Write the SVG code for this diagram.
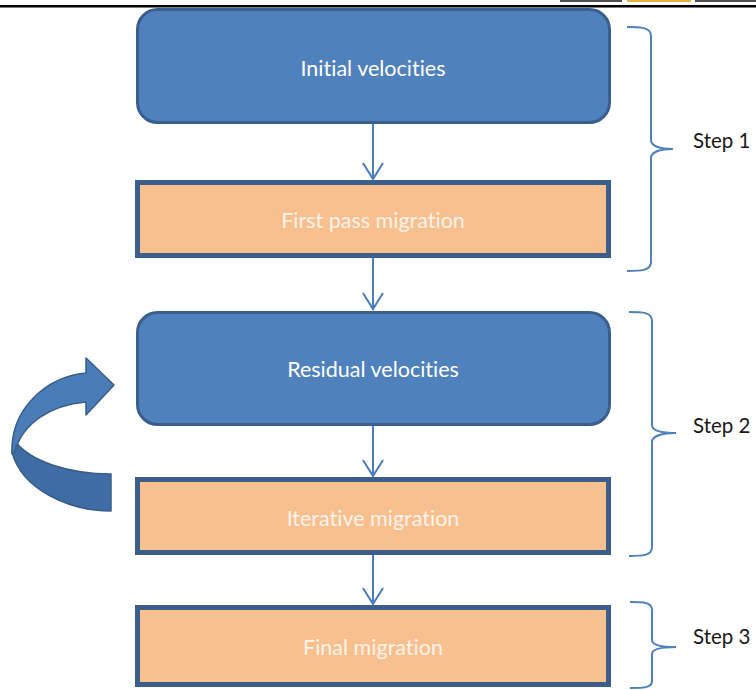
<svg xmlns="http://www.w3.org/2000/svg" width="756" height="690" viewBox="0 0 756 690">
  <style>
    .rbox { fill: #4f81bd; stroke: #3a5f8e; stroke-width: 3; }
    .obox { fill: #f9c08f; stroke: #3b5e8b; stroke-width: 5; }
    .label { font-family: Lato, "Open Sans", sans-serif; font-size: 21.5px; fill: #ffffff; text-anchor: middle; dominant-baseline: central; font-variant-ligatures: none; }
    .olabel { fill: #fdf3ea; }
    .step { font-family: Lato, "Open Sans", sans-serif; font-size: 20.5px; fill: #1a1a1a; dominant-baseline: central; }
    .flow { stroke: #4a7ebb; stroke-width: 2; fill: none; }
    .brace { stroke: #4f81bd; stroke-width: 2; fill: none; }
  </style>

  <!-- page header rule and tabs -->
  <rect x="0" y="5" width="756" height="2.5" fill="#000"/>
  <rect x="560" y="0" width="62" height="2" fill="#4d4d4d"/>
  <rect x="627" y="0" width="64" height="2" fill="#e4b440"/>
  <rect x="695" y="0" width="61" height="2" fill="#4d4d4d"/>

  <!-- nodes -->
  <g id="initial-velocities">
    <rect class="rbox" x="137.5" y="9.5" width="472" height="113" rx="20"/>
    <text class="label" x="373" y="68">Initial velocities</text>
  </g>
  <g id="first-pass-migration">
    <rect class="obox" x="137.5" y="182.5" width="471" height="73"/>
    <text class="label olabel" x="373" y="220">First pass migration</text>
  </g>
  <g id="residual-velocities">
    <rect class="rbox" x="137.5" y="312.5" width="472" height="112" rx="20"/>
    <text class="label" x="373" y="369">Residual velocities</text>
  </g>
  <g id="iterative-migration">
    <rect class="obox" x="137.5" y="479.5" width="471" height="73"/>
    <text class="label olabel" x="373" y="518">Iterative migration</text>
  </g>
  <g id="final-migration">
    <rect class="obox" x="137.5" y="607.5" width="471" height="77"/>
    <text class="label olabel" x="373" y="647">Final migration</text>
  </g>

  <!-- loop-back arrow -->
  <g id="loop-arrow" stroke="#385d8a" stroke-width="1.5" stroke-linejoin="round">
    <path d="M111,474 C70,474 30,462 14,440 L12,452 C22,490 70,511 111,511 Z" fill="#3f6ca4"/>
    <path d="M12,454 C10,410 45,377 86,373 L86,358 L114,385 L86,415 L86,402 C52,405 22,422 14,454 Z" fill="#4a7cb8"/>
  </g>

  <!-- connectors -->
  <g id="connectors">
    <path class="flow" d="M373,124 V179 M363,163 L373,179 L383,163"/>
    <path class="flow" d="M373,258 V309 M363,293 L373,309 L383,293"/>
    <path class="flow" d="M373,426 V476 M363,460 L373,476 L383,460"/>
    <path class="flow" d="M373,555 V604 M363,588 L373,604 L383,588"/>
  </g>

  <!-- step brackets -->
  <g id="step-1">
    <path class="brace" d="M627,27 C640,27 651,27 651,36 V140 C651,146 660,149 673,149 C660,149 651,152 651,158 V262 C651,271 640,271 627,271"/>
    <text class="step" x="693" y="140">Step 1</text>
  </g>
  <g id="step-2">
    <path class="brace" d="M629,312 C642,312 652,312 652,321 V425 C652,431 662,433 676,433 C662,433 652,436 652,442 V547 C652,556 642,556 629,556"/>
    <text class="step" x="693" y="425">Step 2</text>
  </g>
  <g id="step-3">
    <path class="brace" d="M630,602 C643,602 652,602 652,610 V640 C652,645 662,647 676,647 C662,647 652,649 652,654 V681 C652,688 643,688 630,688"/>
    <text class="step" x="693" y="636">Step 3</text>
  </g>
</svg>
